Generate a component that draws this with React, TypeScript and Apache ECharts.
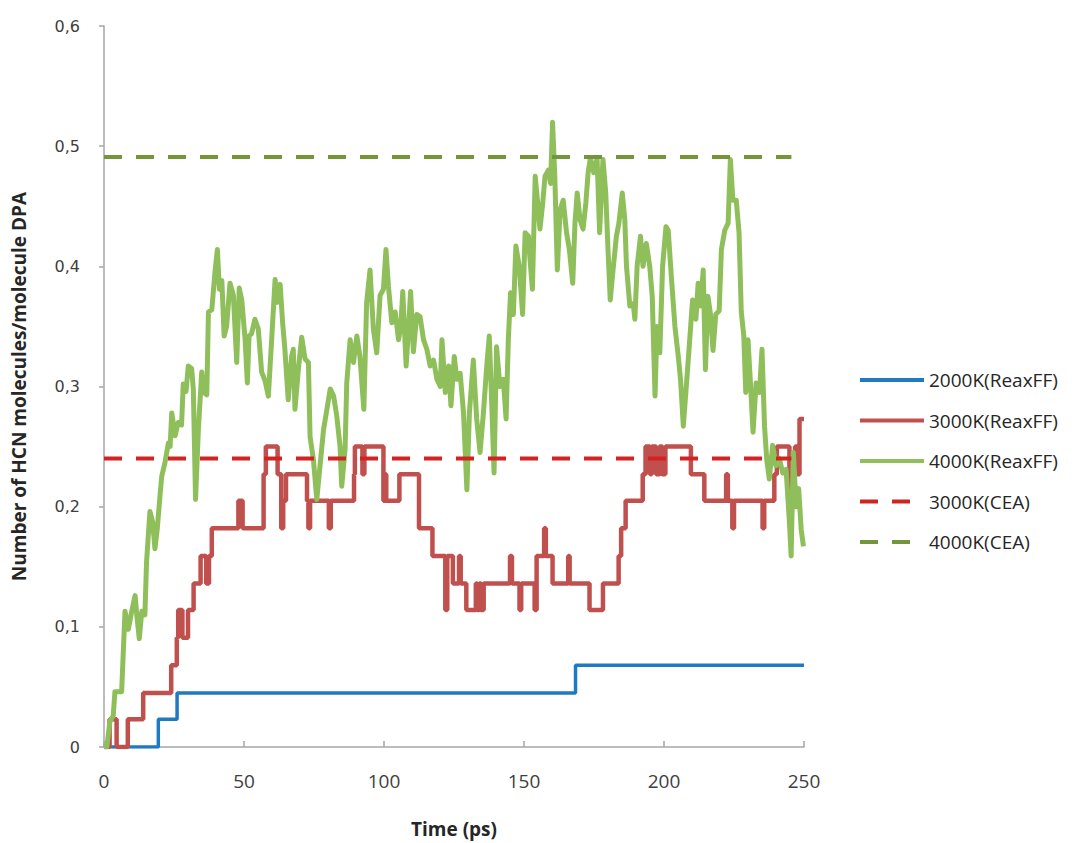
import React, { useEffect, useRef } from "react";
import * as echarts from "echarts";

const seriesNames = ["2000K(ReaxFF)", "3000K(ReaxFF)", "4000K(ReaxFF)", "3000K(CEA)", "4000K(CEA)"];
const xTicks = { min: 0, max: 250, interval: 50 };
const yTicks = { min: 0, max: 0.6, interval: 0.1 };
const xAxisTitle = "Time (ps)";
const yAxisTitle = "Number of HCN molecules/molecule DPA";

// 2000K ReaxFF (step data: value holds from t until next t)
const reax2000: [number, number][] = [
  [0, 0], [19.4, 0.023], [26.1, 0.045], [168.4, 0.068], [250, 0.068],
];

// 3000K ReaxFF (step data)
const reax3000: [number, number][] = [
  [0, 0], [2, 0.023], [4.5, 0], [8.5, 0.023], [14, 0.045], [24, 0.068], [26, 0.091], [26.5, 0.114],
  [28, 0.091], [30, 0.114], [32, 0.136], [34.5, 0.159], [36.5, 0.136], [37.5, 0.159], [38.5, 0.182],
  [48, 0.205], [49.5, 0.182], [57, 0.227], [57.8, 0.25], [62, 0.227], [63.3, 0.182], [64, 0.205],
  [65, 0.227], [72.5, 0.205], [73, 0.182], [73.6, 0.205], [80.3, 0.182], [81, 0.205], [89.3, 0.227],
  [89.6, 0.25], [92.3, 0.227], [93, 0.25], [99.8, 0.205], [100.2, 0.227], [100.8, 0.205],
  [105.5, 0.227], [112.5, 0.182], [117.3, 0.159], [121.9, 0.114], [122.6, 0.159], [124.6, 0.136],
  [126.8, 0.159], [127.4, 0.136], [129.4, 0.114], [132.8, 0.136], [133.3, 0.114], [134, 0.136],
  [134.7, 0.114], [135.6, 0.136], [145, 0.159], [145.7, 0.136], [148.4, 0.114], [149, 0.136],
  [153.8, 0.114], [154.5, 0.159], [157.2, 0.182], [157.8, 0.159], [160.2, 0.136], [165.8, 0.159],
  [166.3, 0.136], [173.4, 0.114], [178.2, 0.136], [183.8, 0.159], [184.7, 0.182], [186.3, 0.205],
  [192.4, 0.227], [193.4, 0.25], [195, 0.227], [195.6, 0.25], [197.2, 0.227], [198.4, 0.25],
  [199.4, 0.227], [200.5, 0.25], [209.6, 0.227], [214.4, 0.205],
  [222.2, 0.227], [222.8, 0.205], [224.4, 0.182], [225, 0.205], [235.2, 0.182], [235.8, 0.205],
  [239.4, 0.227], [240.3, 0.25], [244.8, 0.205], [245.5, 0.227], [246.8, 0.25], [247.5, 0.227],
  [248.4, 0.273], [250, 0.273],
];

// 4000K ReaxFF
const reax4000: [number, number][] = [
  [0, 0], [1, 0], [2.1, 0.021], [3.3, 0.026], [3.9, 0.046], [6.3, 0.046], [7.5, 0.113], [8.7, 0.098],
  [9.9, 0.113], [11.1, 0.126], [11.7, 0.11], [12.6, 0.09], [13.5, 0.113], [14.6, 0.11], [15.2, 0.154],
  [16.4, 0.196], [17.4, 0.187], [18.2, 0.165], [19, 0.181], [20, 0.209], [20.6, 0.225], [21.8, 0.237],
  [23, 0.253], [23.6, 0.25], [24.2, 0.278], [25.4, 0.259], [26.5, 0.27], [27.7, 0.268], [28.3, 0.302],
  [29.3, 0.296], [30.1, 0.317], [31.3, 0.315], [31.9, 0.298], [32.7, 0.206], [33.7, 0.264],
  [34.9, 0.312], [35.7, 0.295], [36.7, 0.293], [37.3, 0.362], [38.5, 0.364], [39.7, 0.397],
  [40.5, 0.414], [41.2, 0.381], [42.1, 0.388], [42.9, 0.342], [43.8, 0.35], [45, 0.386],
  [46.2, 0.376], [47.4, 0.32], [48.3, 0.382], [49.2, 0.372], [50.4, 0.339], [51.2, 0.303],
  [51.8, 0.342], [52.7, 0.344], [53.9, 0.356], [55.1, 0.348], [56.3, 0.312], [57.5, 0.305],
  [58.7, 0.292], [59.9, 0.34], [61.1, 0.389], [61.9, 0.37], [62.9, 0.385], [63.8, 0.353],
  [64.6, 0.331], [65.8, 0.289], [67, 0.325], [67.6, 0.331], [68.2, 0.281], [69.4, 0.314],
  [70.6, 0.341], [71.8, 0.323], [73, 0.32], [73.6, 0.258], [74.8, 0.239], [76, 0.206], [77.2, 0.235],
  [78.4, 0.264], [79.6, 0.281], [80.8, 0.298], [82, 0.292], [83.1, 0.276], [84.3, 0.25], [84.9, 0.217],
  [86.1, 0.248], [86.7, 0.303], [87.9, 0.339], [89.1, 0.32], [90.3, 0.342], [91.4, 0.325],
  [92.8, 0.281], [93.8, 0.37], [95, 0.397], [96.2, 0.348], [97.4, 0.328], [98.6, 0.376],
  [99.8, 0.381], [100.7, 0.414], [101.6, 0.383], [102.8, 0.353], [104, 0.362], [105.2, 0.339],
  [106, 0.35], [106.7, 0.379], [107.9, 0.317], [108.7, 0.345], [109.5, 0.379], [110.5, 0.329],
  [111.7, 0.36], [112.9, 0.358], [114.1, 0.339], [115.3, 0.331], [116.5, 0.317], [117.7, 0.322],
  [118.9, 0.306], [120.1, 0.3], [120.7, 0.339], [121.9, 0.295], [123.1, 0.317], [123.9, 0.284],
  [125.1, 0.325], [126, 0.306], [127.2, 0.311], [128.4, 0.278], [129.6, 0.214], [130.5, 0.278],
  [131.9, 0.322], [133.1, 0.273], [134.3, 0.245], [135.5, 0.278], [136.7, 0.317], [137.6, 0.342],
  [138.5, 0.284], [139.3, 0.228], [140.2, 0.333], [141.4, 0.3], [142.6, 0.306], [143.6, 0.273],
  [144.4, 0.339], [145.2, 0.378], [146.2, 0.36], [147.1, 0.417], [148.3, 0.4], [149.5, 0.36],
  [150.4, 0.428], [151.6, 0.425], [152.1, 0.407], [153, 0.381], [154, 0.475], [154.8, 0.455],
  [155.7, 0.431], [156.7, 0.453], [157.5, 0.475], [158.7, 0.48], [159.5, 0.469], [160.2, 0.52],
  [161, 0.475], [161.9, 0.397], [162.9, 0.447], [164, 0.455], [165.2, 0.428], [166.2, 0.414],
  [167.4, 0.386], [168.2, 0.436], [169, 0.461], [170, 0.439], [171.1, 0.431], [172.1, 0.453],
  [172.9, 0.478], [173.7, 0.49], [174.9, 0.478], [176.1, 0.49], [177, 0.428], [178.2, 0.489],
  [179.2, 0.461], [180, 0.414], [180.8, 0.372], [181.8, 0.397], [183, 0.425], [183.9, 0.436],
  [185.1, 0.461], [186, 0.439], [186.6, 0.4], [187.8, 0.367], [189, 0.369], [189.6, 0.356],
  [190.4, 0.4], [191.6, 0.425], [192.5, 0.4], [193.7, 0.419], [194.9, 0.4], [195.8, 0.375],
  [196.8, 0.292], [197.5, 0.35], [198.5, 0.328], [199.5, 0.4], [200.7, 0.433], [201.5, 0.43],
  [202.7, 0.389], [203.9, 0.35], [205.1, 0.325], [205.9, 0.306], [206.9, 0.267], [207.8, 0.295],
  [209, 0.333], [210.2, 0.372], [211.4, 0.356], [212.2, 0.386], [213.1, 0.367], [214, 0.397],
  [214.8, 0.314], [215.7, 0.375], [216.6, 0.36], [217.5, 0.33], [218.5, 0.36], [219.7, 0.363],
  [220.5, 0.414], [221.7, 0.43], [222.9, 0.436], [223.7, 0.489], [224.6, 0.455], [225.8, 0.455],
  [226.8, 0.428], [227.6, 0.362], [228.5, 0.342], [229.2, 0.295], [230, 0.339], [230.8, 0.306],
  [231.8, 0.262], [232.9, 0.303], [234.1, 0.295], [235, 0.331], [235.9, 0.267], [236.7, 0.239],
  [237.6, 0.223], [238.8, 0.251], [240, 0.234], [241.2, 0.24], [242.4, 0.228], [243.6, 0.231],
  [244.8, 0.187], [245.4, 0.159], [246.2, 0.245], [247.2, 0.2], [248.1, 0.215], [249, 0.181],
  [249.8, 0.167],
];

// CEA equilibrium values
const cea3000: [number, number][] = [[0, 0.24], [245.5, 0.24]];
const cea4000: [number, number][] = [[0, 0.491], [245.5, 0.491]];

const colors = ["#1f7ac2", "#c0504d", "#8fbf5a", "#d42222", "#74953b"];

export default function App() {
  const ref = useRef<HTMLDivElement>(null);
  useEffect(() => {
    if (!ref.current) return;
    const chart = echarts.init(ref.current, null, { renderer: "svg" });
    const axisGray = "#a6a6a6";
    const labelColor = "#404040";
    const option: any = {
      animation: false,
      backgroundColor: "#ffffff",
      grid: { left: 104, right: 272, top: 26, bottom: 91, containLabel: false },
      legend: {
        orient: "vertical",
        left: 858,
        top: 370,
        padding: 0,
        itemWidth: 64,
        itemHeight: 20,
        itemGap: 20.5,
        data: seriesNames,
        itemStyle: { opacity: 0 },
        lineStyle: { width: 4 },
        textStyle: { fontFamily: "Open Sans", fontSize: 19, lineHeight: 20, color: "#262626" },
      },
      xAxis: {
        type: "value",
        min: xTicks.min,
        max: xTicks.max,
        interval: xTicks.interval,
        name: xAxisTitle,
        nameLocation: "middle",
        nameGap: 72,
        nameTextStyle: { fontFamily: "Open Sans", fontWeight: "bold", fontSize: 19, color: "#262626" },
        axisLine: { lineStyle: { color: axisGray, width: 1.5 } },
        axisTick: { inside: true, length: 6, lineStyle: { color: axisGray, width: 1.5 } },
        axisLabel: { margin: 24, fontFamily: "Open Sans", fontSize: 19, color: labelColor },
        splitLine: { show: false },
      },
      yAxis: {
        type: "value",
        min: yTicks.min,
        max: yTicks.max,
        interval: yTicks.interval,
        name: yAxisTitle,
        nameLocation: "middle",
        nameGap: 76,
        nameRotate: 90,
        nameTextStyle: { fontFamily: "Open Sans", fontWeight: "bold", fontSize: 19, color: "#262626" },
        axisLine: { show: true, lineStyle: { color: axisGray, width: 1.5 } },
        axisTick: { show: true, inside: false, length: 5, lineStyle: { color: axisGray, width: 1.5 } },
        axisLabel: {
          margin: 24,
          fontFamily: "DejaVu Sans",
          fontSize: 16,
          color: labelColor,
          formatter: (v: number) => (v === 0 ? "0" : v.toFixed(1).replace(".", ",")),
        },
        splitLine: { show: false },
      },
      series: [
        {
          name: seriesNames[0], type: "line", data: reax2000, step: "end", symbol: "none",
          lineStyle: { color: colors[0], width: 3.5 }, itemStyle: { color: colors[0] },
        },
        {
          name: seriesNames[1], type: "line", data: reax3000, step: "end", symbol: "none",
          lineStyle: { color: colors[1], width: 4.5 }, itemStyle: { color: colors[1] },
        },
        {
          name: seriesNames[2], type: "line", data: reax4000, symbol: "none",
          lineStyle: { color: colors[2], width: 5, join: "round" }, itemStyle: { color: colors[2] },
        },
        {
          name: seriesNames[3], type: "line", data: cea3000, symbol: "none",
          lineStyle: { color: colors[3], width: 4, type: [18, 14] }, itemStyle: { color: colors[3] },
        },
        {
          name: seriesNames[4], type: "line", data: cea4000, symbol: "none",
          lineStyle: { color: colors[4], width: 4, type: [18, 14] }, itemStyle: { color: colors[4] },
        },
      ],
    };
    chart.setOption(option);
    return () => chart.dispose();
  }, []);
  return (
    <div
      ref={ref}
      style={{ position: "fixed", left: 0, top: 0, width: 1076, height: 843 }}
    />
  );
}
